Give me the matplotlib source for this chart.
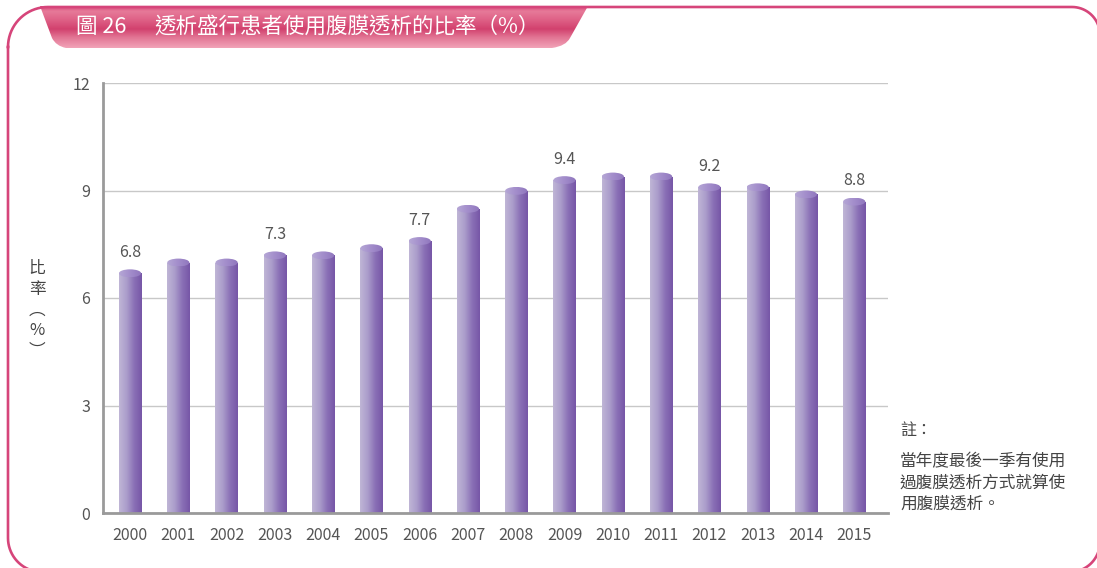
import numpy as np
import matplotlib
matplotlib.use("Agg")
import matplotlib.pyplot as plt
from matplotlib.colors import LinearSegmentedColormap
from matplotlib.patches import Ellipse, PathPatch
from matplotlib.path import Path

plt.rcParams["font.family"] = ["Noto Sans CJK TC", "DejaVu Sans"]

years = ["2000", "2001", "2002", "2003", "2004", "2005", "2006", "2007",
         "2008", "2009", "2010", "2011", "2012", "2013", "2014", "2015"]
rates = [6.8, 7.1, 7.1, 7.3, 7.3, 7.5, 7.7, 8.6,
         9.1, 9.4, 9.5, 9.5, 9.2, 9.2, 9.0, 8.8]
labelled = ["2000", "2003", "2006", "2009", "2012", "2015"]
yticks = [0, 3, 6, 9, 12]

fig_no = "圖 26"
title = "透析盛行患者使用腹膜透析的比率（%）"
note_head = "註："
note_body = "當年度最後一季有使用\n過腹膜透析方式就算使\n用腹膜透析。"

W, H = 1097, 568
fig = plt.figure(figsize=(W / 100, H / 100), dpi=100)


def corner(cx, cy, r, a0, a1):
    t = np.radians(np.linspace(a0, a1, 20))
    return np.column_stack([cx + r * np.cos(t), cy + r * np.sin(t)])


def frame_xy(l, t, r, b, rtl, rtr, rbr, rbl):
    # pixel coords with y pointing down
    return np.vstack([
        corner(l + rtl, t + rtl, rtl, 180, 270),
        corner(r - rtr, t + rtr, rtr, 270, 360),
        corner(r - rbr, b - rbr, rbr, 0, 90),
        corner(l + rbl, b - rbl, rbl, 90, 180),
        [[l, t + rtl]],
    ])


# background frame + title tab, in pixel coords
bg = fig.add_axes([0, 0, 1, 1], zorder=0)
bg.axis("off")
fxy = frame_xy(8, 7, 1100, 572, 40, 28, 30, 34)
bg.plot(fxy[:, 0], fxy[:, 1], color="#d6457a", lw=1.9, solid_joinstyle="round")

verts = [(40, 6), (588, 6), (570, 38), (566, 46), (552, 48), (66, 48),
         (56, 46), (52, 38), (40, 6)]
codes = [Path.MOVETO, Path.LINETO, Path.LINETO, Path.CURVE3, Path.CURVE3,
         Path.LINETO, Path.CURVE3, Path.CURVE3, Path.LINETO]
tab = PathPatch(Path(verts, codes), fc="none", ec="none")
bg.add_patch(tab)
tab_cmap = LinearSegmentedColormap.from_list(
    "tab", [(0, "#d8467b"), (0.12, "#e67a99"), (0.3, "#e06489"),
            (0.55, "#d2416e"), (0.75, "#e27594"), (1.0, "#f2a3b8")])
tim = bg.imshow(np.linspace(0, 1, 128).reshape(-1, 1), cmap=tab_cmap, aspect="auto",
                extent=[40, 590, 48, 6], zorder=1)
tim.set_clip_path(tab)
bg.set_xlim(0, W)
bg.set_ylim(H, 0)
bg.text(76, 27, fig_no, color="white", fontsize=15.5, va="center", ha="left", zorder=3)
bg.text(154, 27, title, color="white", fontsize=15.5, va="center", ha="left", zorder=3)

# chart
ax = fig.add_axes([103 / W, 1 - 513 / H, 785 / W, 430 / H], zorder=2)
ax.patch.set_alpha(0)
x = np.arange(len(years))
bw = 0.46
eh = 0.22  # cylinder cap height in data units

body_cmap = LinearSegmentedColormap.from_list(
    "body", ["#c0b6d6", "#ab9dcb", "#8a70b6", "#7656a6"])
cap_cmap = LinearSegmentedColormap.from_list(
    "cap", ["#b6a8d6", "#a28ccb", "#8f76bd"])
grad = np.linspace(0, 1, 256).reshape(1, -1)

tops = [v - eh / 2 for v in rates]
bars = ax.bar(x, tops, width=bw, color="none", edgecolor="none", zorder=2)
for rect, top in zip(bars, tops):
    x0, w = rect.get_x(), rect.get_width()
    im = ax.imshow(grad, cmap=body_cmap, aspect="auto",
                   extent=[x0, x0 + w, 0, top], zorder=2)
    im.set_clip_path(rect)
    cap = Ellipse((x0 + w / 2, top), w, eh, fc="none", ec="none")
    ax.add_patch(cap)
    cim = ax.imshow(grad, cmap=cap_cmap, aspect="auto",
                    extent=[x0, x0 + w, top - eh / 2, top + eh / 2], zorder=3)
    cim.set_clip_path(cap)

for i, (yr, v) in enumerate(zip(years, rates)):
    if yr in labelled:
        ax.annotate(f"{v:.1f}", (i, v), xytext=(0, 6), textcoords="offset points",
                    ha="center", va="bottom", fontsize=11.5, color="#555555")

ax.set_xlim(-0.56, 15.7)
ax.set_ylim(0, 12)
ax.set_yticks(yticks)
ax.set_xticks(x)
ax.set_xticklabels(years)
ax.tick_params(axis="both", length=0, labelsize=11.5, colors="#555555")
ax.tick_params(axis="y", pad=9)
ax.tick_params(axis="x", pad=10)
ax.grid(axis="y", color="#c8c8c8", lw=1.0, zorder=1)
ax.set_axisbelow(True)
for s in ["top", "right"]:
    ax.spines[s].set_visible(False)
ax.spines["left"].set_color("#9a9a9a")
ax.spines["left"].set_linewidth(2)
ax.spines["bottom"].set_color("#9a9a9a")
ax.spines["bottom"].set_linewidth(2)

fig.text(37 / W, 1 - 310 / H, "比\n率\n︵\n%\n︶", fontsize=12, color="#444444",
         ha="center", va="center", linespacing=1.3)

fig.text(900 / W, 1 - 430 / H, note_head, fontsize=11.5, color="#444444",
         ha="left", va="center")
fig.text(900 / W, 1 - 453 / H, note_body, fontsize=12, color="#444444",
         ha="left", va="top", linespacing=1.33)

fig.savefig("out.png", dpi=100)
